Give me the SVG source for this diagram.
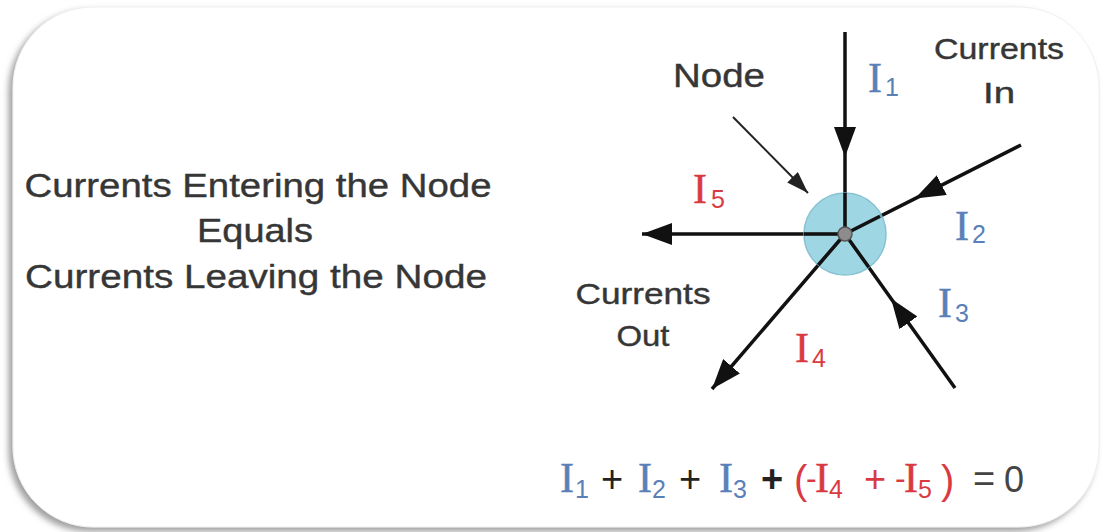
<svg xmlns="http://www.w3.org/2000/svg" width="1102" height="532" viewBox="0 0 1102 532">
<defs>
<style>
.sans{font-family:"Liberation Sans",Arial,sans-serif;fill:#363636;stroke:#363636;stroke-width:0.4}
.ser{font-family:"Liberation Serif","Times New Roman",serif;stroke-width:0.5}
.sub{font-family:"Liberation Sans",Arial,sans-serif;stroke-width:0}
.blue{fill:#5a80b8;stroke:#5a80b8}
.red{fill:#d93a42;stroke:#d93a42}
.wire{stroke:#111;stroke-width:3.5;fill:none}
.thin{stroke:#222;stroke-width:2;fill:none}
.dark{fill:#222}
</style>
<marker id="ah" viewBox="0 0 30 22" refX="30" refY="11" markerWidth="30" markerHeight="22" markerUnits="userSpaceOnUse" orient="auto"><path d="M0,0 L30,11 L0,22 z" fill="#111"/></marker>
<marker id="ahs" viewBox="0 0 22 15" refX="22" refY="7.5" markerWidth="22" markerHeight="15" markerUnits="userSpaceOnUse" orient="auto"><path d="M0,0 L22,7.5 L0,15 z" fill="#222"/></marker>
<filter id="sh" x="-5%" y="-5%" width="110%" height="110%"><feDropShadow dx="-4" dy="4" stdDeviation="3" flood-color="#777" flood-opacity="0.7"/></filter>
</defs>
<rect width="1102" height="532" fill="#fff"/>
<rect id="frame" x="13" y="7" width="1086" height="520" rx="80" ry="80" fill="#fff" stroke="#efefef" stroke-width="1" filter="url(#sh)"/>

<g id="statement">
<text class="sans" x="258" y="197" font-size="34" text-anchor="middle" textLength="467" lengthAdjust="spacingAndGlyphs">Currents Entering the Node</text>
<text class="sans" x="255" y="242" font-size="34" text-anchor="middle" textLength="116" lengthAdjust="spacingAndGlyphs">Equals</text>
<text class="sans" x="256" y="288" font-size="34" text-anchor="middle" textLength="462" lengthAdjust="spacingAndGlyphs">Currents Leaving the Node</text>
</g>

<g id="connectors">
<path class="wire" d="M845,32 L845,157 L845,234" marker-mid="url(#ah)"/>
<path class="wire" d="M1021,145 L915,198.6 L845,234" marker-mid="url(#ah)"/>
<path class="wire" d="M955,388 L891,298.4 L845,234" marker-mid="url(#ah)"/>
<path class="wire" d="M845,234 L712,389" marker-end="url(#ah)"/>
<path class="wire" d="M845,234 L642,234" marker-end="url(#ah)"/>
<path class="thin" d="M733,117 L808,193" marker-end="url(#ahs)"/>
</g>

<g id="node">
<circle cx="845" cy="234" r="41" fill="#8fd0e0" stroke="#74b8cb" stroke-width="1.5" opacity="0.85"/>
<path class="wire" d="M845,193 L845,234 M880,216.2 L845,234 M868.8,267.3 L845,234 M818.3,265 L845,234 M804,234 L845,234"/>
<circle cx="845" cy="234" r="7" fill="#8c8c8c" stroke="#555" stroke-width="1.5"/>
</g>

<g id="label-node">
<text class="sans" x="673" y="87" font-size="34" textLength="92" lengthAdjust="spacingAndGlyphs">Node</text>
</g>
<g id="label-in">
<text class="sans" x="999" y="59" font-size="29" text-anchor="middle" textLength="130" lengthAdjust="spacingAndGlyphs">Currents</text>
<text class="sans" x="999" y="103" font-size="29" text-anchor="middle" textLength="32" lengthAdjust="spacingAndGlyphs">In</text>
</g>
<g id="label-out">
<text class="sans" x="643" y="304" font-size="29" text-anchor="middle" textLength="135" lengthAdjust="spacingAndGlyphs">Currents</text>
<text class="sans" x="643" y="346" font-size="29" text-anchor="middle" textLength="53" lengthAdjust="spacingAndGlyphs">Out</text>
</g>

<g id="label-i1"><text class="ser blue" x="868" y="92" font-size="42">I</text><text class="sub blue" x="885" y="96" font-size="25">1</text></g>
<g id="label-i2"><text class="ser blue" x="955" y="240" font-size="42">I</text><text class="sub blue" x="972" y="243" font-size="25">2</text></g>
<g id="label-i3"><text class="ser blue" x="938" y="317" font-size="42">I</text><text class="sub blue" x="955" y="322" font-size="25">3</text></g>
<g id="label-i4"><text class="ser red" x="795" y="362" font-size="42">I</text><text class="sub red" x="812" y="367" font-size="25">4</text></g>
<g id="label-i5"><text class="ser red" x="693" y="203" font-size="42">I</text><text class="sub red" x="711" y="208" font-size="25">5</text></g>

<g id="equation">
<text class="ser blue" x="560" y="492" font-size="42">I</text><text class="sub blue" x="575" y="498" font-size="25">1</text>
<text class="sub dark" x="601" y="492" font-size="38">+</text>
<text class="ser blue" x="638" y="492" font-size="42">I</text><text class="sub blue" x="652" y="498" font-size="25">2</text>
<text class="sub dark" x="679" y="492" font-size="38">+</text>
<text class="ser blue" x="719" y="492" font-size="42">I</text><text class="sub blue" x="733" y="498" font-size="25">3</text>
<text class="sub dark" x="761" y="492" font-size="38" font-weight="bold">+</text>
<text class="sub red" x="794" y="494" font-size="40">(</text>
<text class="sub red" x="806" y="489" font-size="32">-</text>
<text class="ser red" x="815" y="492" font-size="42">I</text><text class="sub red" x="829" y="498" font-size="25">4</text>
<text class="sub red" x="864" y="492" font-size="38">+</text>
<text class="sub red" x="895" y="489" font-size="32">-</text>
<text class="ser red" x="904" y="492" font-size="42">I</text><text class="sub red" x="918" y="498" font-size="25">5</text>
<text class="sub red" x="941" y="494" font-size="40">)</text>
<text class="sub" x="973" y="492" font-size="38" fill="#444">=</text>
<text class="sub" x="1004" y="492" font-size="36" fill="#444">0</text>
</g>
</svg>
